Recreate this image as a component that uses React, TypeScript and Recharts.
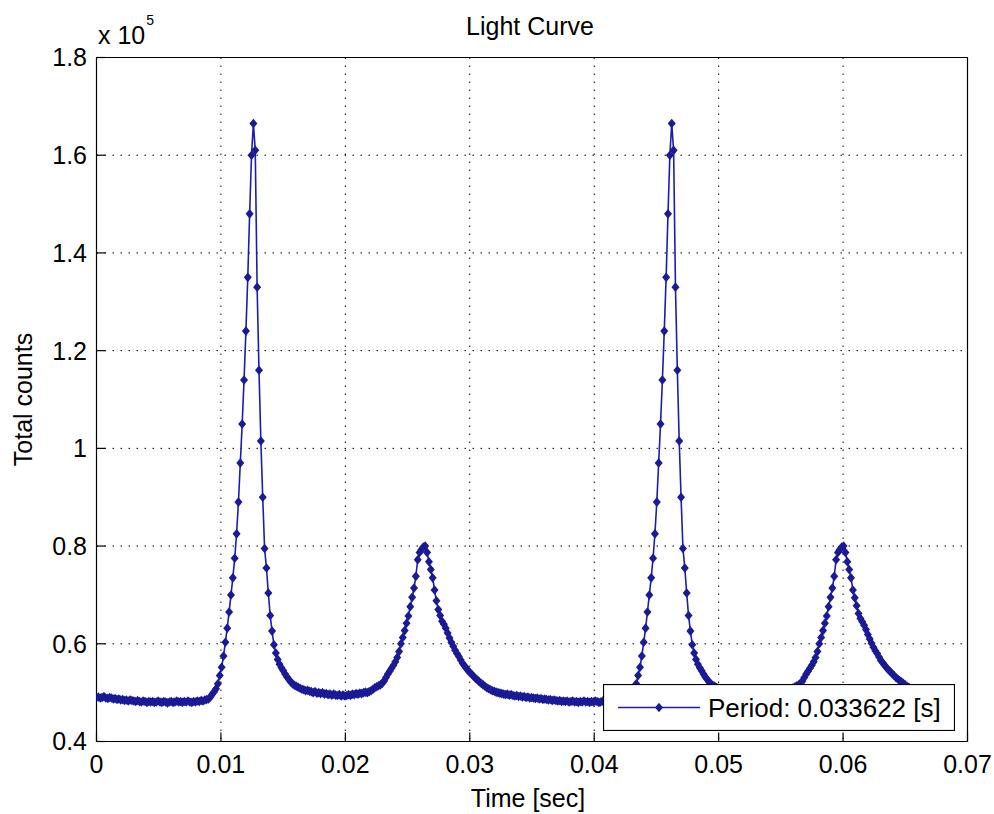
import React from 'react';
import { LineChart, Line, XAxis, YAxis, CartesianGrid, Legend } from 'recharts';

// ---- data ----
const PERIOD = 0.033622; // seconds, folded period shown in legend
const SAMPLES_PER_PERIOD = 224;
const TIME_STEP = PERIOD / SAMPLES_PER_PERIOD;

// total counts in units of 1e5, first folded cycle
const cycle1Counts = [
  0.490, 0.491, 0.489, 0.490, 0.492, 0.489, 0.488, 0.490, 0.489, 0.487,
  0.488, 0.486, 0.487, 0.485, 0.486, 0.484, 0.485, 0.483, 0.485, 0.484,
  0.483, 0.482, 0.484, 0.482, 0.481, 0.483, 0.482, 0.480, 0.482, 0.481,
  0.482, 0.480, 0.481, 0.483, 0.481, 0.480, 0.482, 0.481, 0.479, 0.481,
  0.482, 0.480, 0.481, 0.483, 0.481, 0.482, 0.480, 0.482, 0.481, 0.483,
  0.481, 0.480, 0.482, 0.481, 0.483, 0.482, 0.484, 0.483, 0.485, 0.486,
  0.487, 0.491, 0.497, 0.502, 0.508, 0.518, 0.535, 0.552, 0.575, 0.603,
  0.632, 0.665, 0.700, 0.735, 0.775, 0.825, 0.890, 0.970, 1.050, 1.140,
  1.240, 1.350, 1.480, 1.600, 1.665, 1.610, 1.330, 1.160, 1.015, 0.900,
  0.795, 0.755, 0.704, 0.658, 0.626, 0.598, 0.581, 0.568, 0.558, 0.551,
  0.545, 0.538, 0.532, 0.527, 0.522, 0.518, 0.515, 0.513, 0.511, 0.509,
  0.507, 0.506, 0.504, 0.505, 0.503, 0.502, 0.500, 0.502, 0.499, 0.500,
  0.498, 0.500, 0.497, 0.498, 0.496, 0.497, 0.495, 0.497, 0.495, 0.494,
  0.496, 0.493, 0.495, 0.493, 0.494, 0.496, 0.494, 0.497, 0.496, 0.498,
  0.497, 0.499, 0.498, 0.500, 0.501, 0.500, 0.502, 0.504, 0.507, 0.510,
  0.512, 0.514, 0.516, 0.519, 0.524, 0.531, 0.538, 0.544, 0.550, 0.556,
  0.563, 0.572, 0.584, 0.600, 0.613, 0.627, 0.642, 0.657, 0.676, 0.695,
  0.714, 0.738, 0.772, 0.787, 0.793, 0.798, 0.800, 0.787, 0.768, 0.752,
  0.735, 0.710, 0.688, 0.670, 0.658, 0.646, 0.640, 0.632, 0.622, 0.612,
  0.603, 0.595, 0.587, 0.580, 0.574, 0.567, 0.560, 0.555, 0.550, 0.545,
  0.541, 0.537, 0.533, 0.529, 0.526, 0.522, 0.519, 0.516, 0.513, 0.510,
  0.508, 0.506, 0.504, 0.503, 0.501, 0.500, 0.499, 0.498, 0.497, 0.496,
  0.497, 0.495, 0.496, 0.494,
];

// total counts in units of 1e5, second folded cycle
const cycle2Counts = [
  0.493, 0.494, 0.492, 0.493, 0.491, 0.492, 0.490, 0.491, 0.489, 0.490,
  0.489, 0.488, 0.489, 0.487, 0.488, 0.486, 0.487, 0.486, 0.485, 0.486,
  0.484, 0.485, 0.484, 0.483, 0.484, 0.482, 0.483, 0.482, 0.483, 0.481,
  0.482, 0.483, 0.481, 0.482, 0.480, 0.482, 0.481, 0.483, 0.481, 0.482,
  0.480, 0.482, 0.481, 0.483, 0.482, 0.480, 0.481, 0.483, 0.482, 0.481,
  0.483, 0.482, 0.481, 0.483, 0.482, 0.484, 0.483, 0.485, 0.484, 0.486,
  0.487, 0.491, 0.497, 0.502, 0.508, 0.518, 0.535, 0.552, 0.575, 0.603,
  0.632, 0.665, 0.700, 0.735, 0.775, 0.825, 0.890, 0.970, 1.050, 1.140,
  1.240, 1.350, 1.480, 1.600, 1.665, 1.610, 1.330, 1.160, 1.015, 0.900,
  0.795, 0.755, 0.704, 0.658, 0.626, 0.598, 0.581, 0.568, 0.558, 0.551,
  0.545, 0.538, 0.532, 0.527, 0.522, 0.518, 0.515, 0.513, 0.511, 0.509,
  0.507, 0.506, 0.504, 0.505, 0.503, 0.502, 0.500, 0.502, 0.499, 0.500,
  0.498, 0.500, 0.497, 0.498, 0.496, 0.497, 0.495, 0.497, 0.495, 0.494,
  0.496, 0.493, 0.495, 0.493, 0.494, 0.496, 0.494, 0.497, 0.496, 0.498,
  0.497, 0.499, 0.498, 0.500, 0.501, 0.500, 0.502, 0.504, 0.507, 0.510,
  0.512, 0.514, 0.516, 0.519, 0.524, 0.531, 0.538, 0.544, 0.550, 0.556,
  0.563, 0.572, 0.584, 0.600, 0.613, 0.627, 0.642, 0.657, 0.676, 0.695,
  0.714, 0.738, 0.772, 0.787, 0.793, 0.798, 0.800, 0.787, 0.768, 0.752,
  0.735, 0.710, 0.694, 0.678, 0.662, 0.652, 0.645, 0.638, 0.629, 0.619,
  0.610, 0.601, 0.593, 0.586, 0.580, 0.573, 0.566, 0.561, 0.556, 0.551,
  0.547, 0.543, 0.539, 0.535, 0.531, 0.528, 0.525, 0.522, 0.519, 0.516,
  0.513, 0.511, 0.509, 0.507, 0.505, 0.504, 0.502, 0.501, 0.500, 0.499,
  0.498, 0.497, 0.496, 0.495,
];

const xTicks = [0, 0.01, 0.02, 0.03, 0.04, 0.05, 0.06, 0.07];
const yTicks = [0.4, 0.6, 0.8, 1.0, 1.2, 1.4, 1.6, 1.8];
const X_DOMAIN: [number, number] = [0, 0.07];
const Y_DOMAIN: [number, number] = [0.4, 1.8];
const TITLE = 'Light Curve';
const X_LABEL = 'Time [sec]';
const Y_LABEL = 'Total counts';
const Y_EXPONENT = '5';
const SERIES_NAME = `Period: ${PERIOD} [s]`;

const data = [...cycle1Counts, ...cycle2Counts].map((c, i) => ({
  time: i * TIME_STEP,
  counts: c,
}));

// ---- styles ----
const FONT = '"Liberation Sans", Arial, Helvetica, sans-serif';
const LINE_COLOR = '#1c1cb0';
const MARKER_COLOR = '#1a1a96';
const FONT_SIZE = 25;

const diamondPath = (cx: number, cy: number) =>
  `M${cx},${cy - 4.8}L${cx + 4},${cy}L${cx},${cy + 4.8}L${cx - 4},${cy}Z`;

const renderDiamond = (props: any) => {
  const { cx, cy, index } = props;
  if (cx == null || cy == null) return <g key={`d-${index}`} />;
  return <path key={`d-${index}`} d={diamondPath(cx, cy)} fill={MARKER_COLOR} />;
};

const fmtX = (v: number) => String(Number(v.toFixed(2)));
const fmtY = (v: number) => String(Number(v.toFixed(1)));

const LegendBox = (props: any) => {
  const item = props.payload && props.payload[0];
  return (
    <svg width={352} height={47} style={{ display: 'block' }}>
      <rect x={0.5} y={0.5} width={351} height={46} fill="#fff" stroke="#000" strokeWidth={1.2} />
      <line x1={15} x2={97} y1={23.5} y2={23.5} stroke={LINE_COLOR} strokeWidth={1.6} />
      <path d={diamondPath(56, 23.5)} fill={MARKER_COLOR} />
      <text x={105} y={33} fontSize={26} fontFamily={FONT} fill="#000">
        {item ? item.value : SERIES_NAME}
      </text>
    </svg>
  );
};

const TopTexts = () => (
  <g fontFamily={FONT} fill="#000">
    <text x={530} y={35} fontSize={FONT_SIZE} textAnchor="middle">{TITLE}</text>
    <text x={98} y={43.5} fontSize={FONT_SIZE}>
      x 10
      <tspan dx={1} dy={-18.5} fontSize={14}>{Y_EXPONENT}</tspan>
    </text>
  </g>
);

const XLabel = () => (
  <text x={528} y={807} fontSize={FONT_SIZE} fontFamily={FONT} textAnchor="middle" fill="#000">
    {X_LABEL}
  </text>
);

const YLabel = () => (
  <text
    x={32}
    y={399.5}
    transform="rotate(-90, 32, 399.5)"
    fontSize={FONT_SIZE}
    fontFamily={FONT}
    textAnchor="middle"
    fill="#000"
  >
    {Y_LABEL}
  </text>
);

const tickStyle = { fill: '#000', fontSize: FONT_SIZE, fontFamily: FONT };

export default function App() {
  return (
    <div style={{ position: 'absolute', left: 0, top: 0, width: 994, height: 814, background: '#fff' }}>
      <LineChart
        width={994}
        height={814}
        data={data}
        margin={{ top: 37.5, right: 0.5, bottom: 0, left: 0 }}
      >
        <CartesianGrid stroke="#000" strokeDasharray="1.5 6.5" strokeWidth={1} />
        <XAxis
          dataKey="time"
          type="number"
          domain={X_DOMAIN}
          ticks={xTicks}
          interval={0}
          tickFormatter={fmtX}
          tick={tickStyle}
          tickSize={-9}
          tickMargin={23}
          height={72.5}
          stroke="#000"
          strokeWidth={1.2}
          allowDataOverflow
          label={{ content: XLabel }}
        />
        <XAxis
          xAxisId="top"
          orientation="top"
          type="number"
          domain={X_DOMAIN}
          ticks={xTicks}
          interval={0}
          tick={false}
          tickSize={-9}
          height={20}
          stroke="#000"
          strokeWidth={1.2}
          allowDataOverflow
          label={{ content: TopTexts }}
        />
        <YAxis
          type="number"
          domain={Y_DOMAIN}
          ticks={yTicks}
          interval={0}
          tickFormatter={fmtY}
          tick={tickStyle}
          tickSize={-9}
          tickMargin={18.5}
          width={96.5}
          stroke="#000"
          strokeWidth={1.2}
          allowDataOverflow
          label={{ content: YLabel }}
        />
        <YAxis
          yAxisId="right"
          orientation="right"
          type="number"
          domain={Y_DOMAIN}
          ticks={yTicks}
          interval={0}
          tick={false}
          tickSize={-9}
          width={26}
          stroke="#000"
          strokeWidth={1.2}
          allowDataOverflow
        />
        <Legend
          layout="vertical"
          verticalAlign="middle"
          align="center"
          wrapperStyle={{ left: 603, top: 684, width: 352, height: 47 }}
          content={LegendBox}
        />
        <Line
          type="linear"
          dataKey="counts"
          name={SERIES_NAME}
          stroke={LINE_COLOR}
          strokeWidth={1.6}
          dot={renderDiamond}
          activeDot={false}
          isAnimationActive={false}
        />
      </LineChart>
    </div>
  );
}
